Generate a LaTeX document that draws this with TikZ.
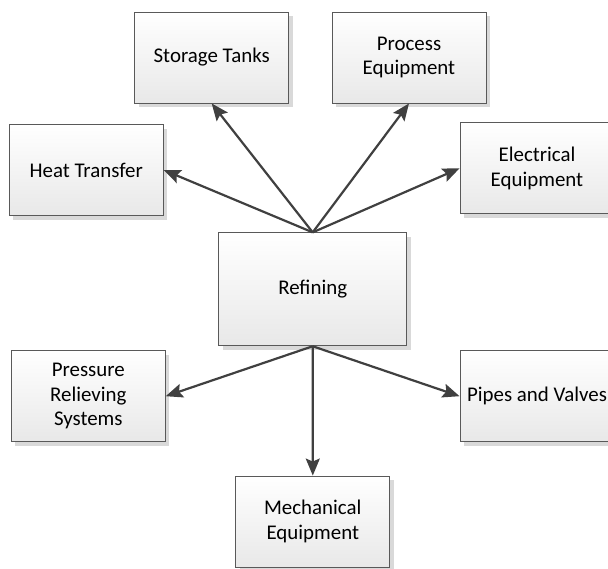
\documentclass[tikz,border=0pt]{standalone}
\usepackage{fontspec}
\setmainfont{Carlito}
\usetikzlibrary{arrows.meta,shadows}

\tikzset{
  topic/.style={
    rectangle, draw=black!65, line width=0.9pt,
    top color=white, bottom color=black!9,
    minimum width=154pt, minimum height=91pt,
    inner sep=2pt, align=center, text=black,
    font=\fontsize{20.9}{24.5}\selectfont,
    drop shadow={shadow xshift=4pt, shadow yshift=-4pt, fill=black!15, opacity=1}
  },
  hub/.style={topic, minimum width=188pt, minimum height=113pt},
  link/.style={draw=black!75, line width=2.2pt,
    -{Stealth[length=17pt, width=14pt, inset=3pt]}}
}

\begin{document}
\begin{tikzpicture}[x=1pt, y=-1pt]
  \useasboundingbox (0,0) rectangle (608,568);

  % central activity
  \node[hub]   (ref) at (312.7,289.3) {Refining};

  % equipment groups
  \node[topic] (st)  at (211.7,57.5)  {Storage Tanks};
  \node[topic] (pe)  at (409.0,57.5)  {Process\\Equipment};
  \node[topic] (ht)  at (86.2,170.0)  {Heat Transfer};
  \node[topic] (el)  at (537.0,168.3) {Electrical\\Equipment};
  \node[topic] (pr)  at (88.3,396.2)  {Pressure\\Relieving\\Systems};
  \node[topic] (pv)  at (537.0,396.2) {Pipes and Valves};
  \node[topic] (me)  at (312.8,521.5) {Mechanical\\Equipment};

  % links from the refining box
  \draw[link] (ref.north) -- (st.south);
  \draw[link] (ref.north) -- (pe.south);
  \draw[link] (ref.north) -- (ht.east);
  \draw[link] (ref.north) -- (el.west);
  \draw[link] (ref.south) -- (pr.east);
  \draw[link] (ref.south) -- (pv.west);
  \draw[link] (ref.south) -- (me.north);
\end{tikzpicture}
\end{document}
